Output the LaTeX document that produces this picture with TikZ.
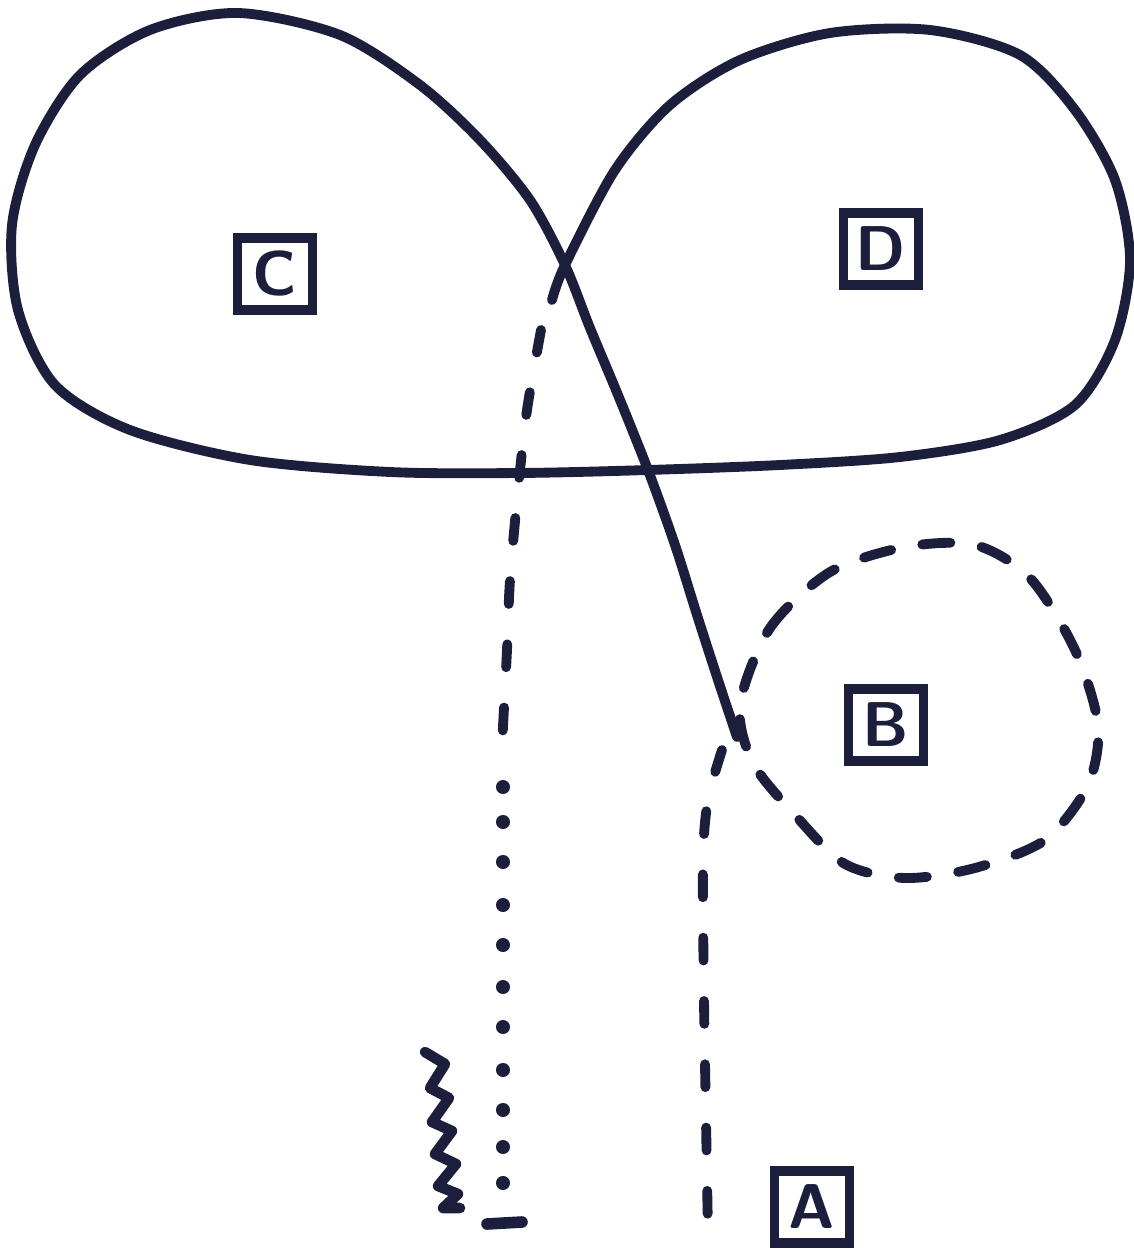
\documentclass[tikz,border=0pt]{standalone}
\usepackage{tikz}
\usetikzlibrary{positioning}
\definecolor{ink}{HTML}{1B1F3B}

\begin{document}
\begin{tikzpicture}[
    x=0.01cm, y=-0.01cm,
    pen/.style={draw=ink, line width=2.8pt, line cap=round, line join=round},
    dashpen/.style={pen, dash pattern=on 6.5pt off 11.5pt},
    tag/.style={draw=ink, line width=2.8pt, minimum width=0.75cm,
                minimum height=0.72cm, inner sep=0pt, text=ink,
                font=\sffamily\bfseries\fontsize{18}{20}\selectfont}
  ]
  \useasboundingbox (0,0) rectangle (1134,1249);
  % labels
  \node[tag] (C) at (275,274) {C};
  \node[tag] (D) at (881,249) {D};
  \node[tag] (B) at (886,725) {B};
  \node[tag] (A) at (812,1207) {A};
  % solid figure of eight
  \draw[pen] plot[smooth] coordinates {
    (737,737) (718,680) (697,615) (675,545) (648,470) (618,395) (590,328)
    (565,265) (530,200) (480,140) (420,85) (340,35) (238,13) (150,30)
    (80,75) (35,145) (12,225) (18,310) (55,385) (130,430) (250,460)
    (390,472) (520,473) (648,470) (780,465) (900,457) (1000,440)
    (1075,405) (1115,340) (1130,260) (1115,180) (1075,110) (1020,55)
    (930,30) (830,33) (740,60) (670,105) (615,170) (565,265) (552,300)};
  % dashed path under C, then dots
  \draw[dashpen] plot[smooth] coordinates {
    (541,330) (527,410) (518,490) (510,580) (507,650) (502,745)};
  \foreach \y in {787,822,862,905,945,987,1027,1070,1110,1147,1183}
    \fill[ink] (503,\y) circle (2pt);
  \draw[pen, line width=3.3pt] (487,1224) -- (522,1222);
  % zigzag
  \draw[pen, line width=3pt] (425,1052) -- (445,1064) -- (430,1088)
    -- (449,1098) -- (432,1122) -- (452,1131) -- (435,1154) -- (456,1164)
    -- (438,1186) -- (458,1194) -- (443,1208) -- (460,1208);
  % dashed ring round B
  \draw[pen, dash pattern=on 8pt off 9pt] plot[smooth cycle] coordinates {
    (740,705) (770,628) (830,572) (905,547) (975,545) (1030,578)
    (1075,650) (1098,725) (1088,785) (1045,840) (975,868) (905,878)
    (845,864) (795,815) (753,763)};
  % dashed path down to A
  \draw[dashpen] plot[smooth] coordinates {
    (722,750) (708,800) (703,860) (704,1000) (706,1120) (708,1235)};
\end{tikzpicture}
\end{document}
